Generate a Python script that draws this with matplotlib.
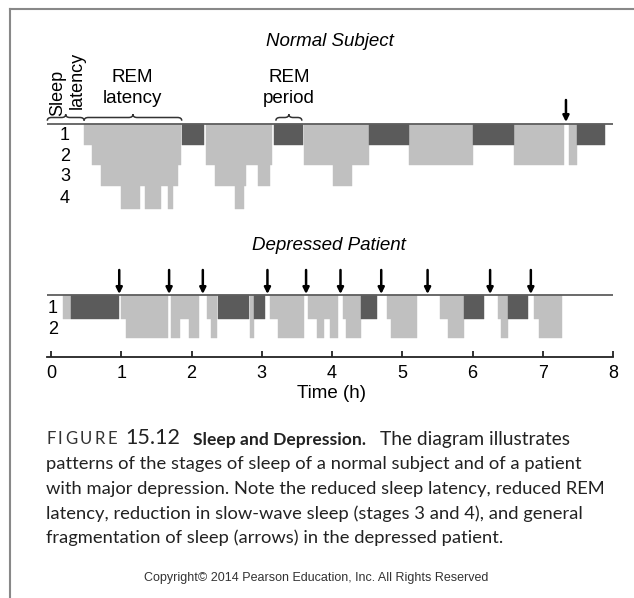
import matplotlib.pyplot as plt
from matplotlib.path import Path
from matplotlib.patches import PathPatch
from matplotlib.lines import Line2D

# hypnograms: (start h, end h, stage) for non-REM, (start h, end h) for REM
normal_nrem = [(0.47, 0.58, 1), (0.58, 0.71, 2), (0.71, 1.00, 3), (1.00, 1.27, 4),
               (1.27, 1.33, 3), (1.33, 1.57, 4), (1.57, 1.66, 3), (1.66, 1.73, 4),
               (1.73, 1.81, 3), (1.81, 1.85, 2),
               (2.20, 2.34, 2), (2.34, 2.62, 3), (2.62, 2.74, 4), (2.74, 2.77, 3),
               (2.77, 2.95, 2), (2.95, 3.12, 3), (3.12, 3.15, 2),
               (3.60, 4.02, 2), (4.02, 4.29, 3), (4.29, 4.53, 2),
               (5.10, 6.01, 2), (6.59, 7.30, 2), (7.37, 7.49, 2)]
normal_rem = [(1.86, 2.18), (3.18, 3.59), (4.53, 5.10), (6.01, 6.59), (7.49, 7.89)]
normal_arrows = [7.33]

depressed_nrem = [(0.17, 0.28, 1), (1.00, 1.07, 1), (1.07, 1.66, 2), (1.71, 1.83, 2),
                  (1.83, 1.97, 1), (1.97, 2.10, 2), (2.22, 2.27, 1), (2.27, 2.36, 2),
                  (2.83, 2.89, 2), (3.12, 3.23, 1), (3.23, 3.60, 2), (3.66, 3.79, 1),
                  (3.79, 3.88, 2), (3.88, 3.97, 1), (3.97, 4.09, 2), (4.15, 4.20, 1),
                  (4.20, 4.41, 2), (4.78, 4.84, 1), (4.84, 5.21, 2), (5.53, 5.65, 1),
                  (5.65, 5.88, 2), (6.36, 6.41, 1), (6.41, 6.50, 2), (6.88, 6.95, 1),
                  (6.95, 7.28, 2)]
depressed_rem = [(0.28, 0.97), (2.38, 2.82), (2.89, 3.05), (4.41, 4.64), (5.88, 6.16),
                 (6.50, 6.79)]
depressed_arrows = [0.97, 1.68, 2.16, 3.08, 3.63, 4.12, 4.70, 5.36, 6.25, 6.83]

normal_stages = ['1', '2', '3', '4']
depressed_stages = ['1', '2']
time_ticks = [0, 1, 2, 3, 4, 5, 6, 7, 8]

caption_head = ['F', 'I', 'G', 'U', 'R', 'E', '15.12', 'Sleep and Depression.',
                'The diagram illustrates']
caption = [
    "patterns of the stages of sleep of a normal subject and of a patient",
    "with major depression. Note the reduced sleep latency, reduced REM",
    "latency, reduction in slow-wave sleep (stages 3 and 4), and general",
    "fragmentation of sleep (arrows) in the depressed patient.",
]

LIGHT = '#c0c0c0'
DARK = '#5b5b5b'
W, H = 634, 598
X0, XS = 51.1, 70.24  # pixel position of 0 h and pixels per hour
FONT = 'Liberation Sans'


def hx(px):
    return (px - X0) / XS


def fxy(px, py):
    return px / W, 1 - py / H


def draw_hypnogram(ax, nrem, rem, levels):
    for t0, t1, st in nrem:
        ax.bar(t0, levels[st] - levels[0], width=t1 - t0, bottom=levels[0], align='edge',
               color=LIGHT, edgecolor=LIGHT, linewidth=0.3)
    for t0, t1 in rem:
        ax.bar(t0, levels[1] - levels[0], width=t1 - t0, bottom=levels[0], align='edge',
               color=DARK, edgecolor=DARK, linewidth=0.3)
    ax.plot([hx(47.3), 8.0], [levels[0], levels[0]], color='#5e5e5e', lw=1.3,
            solid_capstyle='butt', zorder=3)


def draw_arrows(ax, times, y0, y1):
    for t in times:
        ax.annotate('', xy=(t, y1), xytext=(t, y0),
                    arrowprops=dict(arrowstyle='-|>', color='black', lw=1.8,
                                    mutation_scale=9, shrinkA=0, shrinkB=0))


def brace(ax, t0, t1, y, h=3.2):
    d = 0.06
    m = (t0 + t1) / 2
    verts = [(t0, y + h), (t0, y), (t0 + d, y), (m - d, y), (m, y), (m, y - h),
             (m, y), (m + d, y), (t1 - d, y), (t1, y), (t1, y + h)]
    codes = [Path.MOVETO, Path.CURVE3, Path.CURVE3, Path.LINETO, Path.CURVE3, Path.CURVE3,
             Path.CURVE3, Path.CURVE3, Path.LINETO, Path.CURVE3, Path.CURVE3]
    ax.add_patch(PathPatch(Path(verts, codes), fill=False, edgecolor='#333333', lw=1.1))


fig = plt.figure(figsize=(W / 100, H / 100), dpi=100)
ax = fig.add_axes([0, 0, 1, 1])
ax.set_xlim(hx(0), hx(W))
ax.set_ylim(H, 0)
ax.patch.set_alpha(0)

top_levels = [124.3, 145.0, 165.3, 186.0, 209.0]
bot_levels = [295.0, 319.3, 338.3]

draw_hypnogram(ax, normal_nrem, normal_rem, top_levels)
draw_hypnogram(ax, depressed_nrem, depressed_rem, bot_levels)
draw_arrows(ax, normal_arrows, 100, 122)
draw_arrows(ax, depressed_arrows, 270, 294)

for i, s in enumerate(normal_stages):
    ax.text(hx(65), (top_levels[i] + top_levels[i + 1]) / 2 + 1, s, ha='center', va='center',
            fontsize=13, family=FONT)
for i, s in enumerate(depressed_stages):
    ax.text(hx(53), (bot_levels[i] + bot_levels[i + 1]) / 2 + 1, s, ha='center', va='center',
            fontsize=13, family=FONT)

# braces and their labels
brace(ax, hx(47.3), normal_nrem[0][0], 117.5)
brace(ax, normal_nrem[0][0], normal_rem[0][0], 117.5)
brace(ax, normal_rem[1][0] + 0.02, normal_rem[1][1] - 0.02, 117.5)
ax.text(hx(58), 116, 'Sleep', rotation=90, ha='center', va='bottom', fontsize=13,
        family=FONT)
ax.text(hx(77), 109, 'latency', rotation=90, ha='center', va='bottom', fontsize=13,
        family=FONT)
ax.text(hx(132), 88, 'REM\nlatency', ha='center', va='center', fontsize=13.5,
        family=FONT, linespacing=1.25)
ax.text(hx(289), 88, 'REM\nperiod', ha='center', va='center', fontsize=13.5,
        family=FONT, linespacing=1.25)

ax.text(hx(330), 41, 'Normal Subject', ha='center', va='center', fontsize=13.5,
        style='italic', family=FONT)
ax.text(hx(329), 245, 'Depressed Patient', ha='center', va='center', fontsize=13.5,
        style='italic', family=FONT)

# time axis
for side in ['top', 'left', 'right']:
    ax.spines[side].set_visible(False)
ax.spines['bottom'].set_position(('data', 356.7))
ax.spines['bottom'].set_bounds(hx(47.3), 8)
ax.spines['bottom'].set_linewidth(1.3)
ax.spines['bottom'].set_color('#222222')
ax.set_yticks([])
ax.set_xticks(time_ticks)
ax.set_xticklabels([str(t) for t in time_ticks], fontsize=13, family=FONT)
ax.tick_params(axis='x', direction='in', length=4.5, width=1.3, color='#222222', pad=6)
ax.text(hx(331.7), 393, 'Time (h)', ha='center', va='center', fontsize=13.5, family=FONT)

# caption, first line built from pieces in different styles
cap_font = 'Lato'
renderer = fig.canvas.get_renderer()
letter = dict(fontsize=12, color='#333333')
head_styles = [letter] * 6 + [dict(fontsize=15.5, color='#222222'),
                              dict(fontsize=12.6, weight='bold', color='#222222'),
                              dict(fontsize=13.8, color='#222222')]
head_gaps = [0, 2.5, 2.5, 2.5, 2.5, 2.5, 8, 13, 14]
px = 46
for piece, style, gap in zip(caption_head, head_styles, head_gaps):
    px += gap
    t = fig.text(*fxy(px, 444.5), piece, family=cap_font, va='baseline', ha='left', **style)
    px = t.get_window_extent(renderer).x1
for i, line in enumerate(caption):
    fig.text(*fxy(46, 469.5 + 24.5 * i), line, fontsize=13.2, family=cap_font,
             color='#222222', va='baseline', ha='left')
fig.text(*fxy(316, 581), 'Copyright\u00a9 2014 Pearson Education, Inc. All Rights Reserved',
         fontsize=9, family=FONT, color='#333333', ha='center', va='baseline')

# frame edges of the scanned page
fig.add_artist(Line2D([10 / W, 1], [1 - 9 / H, 1 - 9 / H], color='#888888', lw=1.5))
fig.add_artist(Line2D([10 / W, 10 / W], [1 - 9 / H, 0], color='#888888', lw=1.5))

fig.savefig('out.png', dpi=100)
